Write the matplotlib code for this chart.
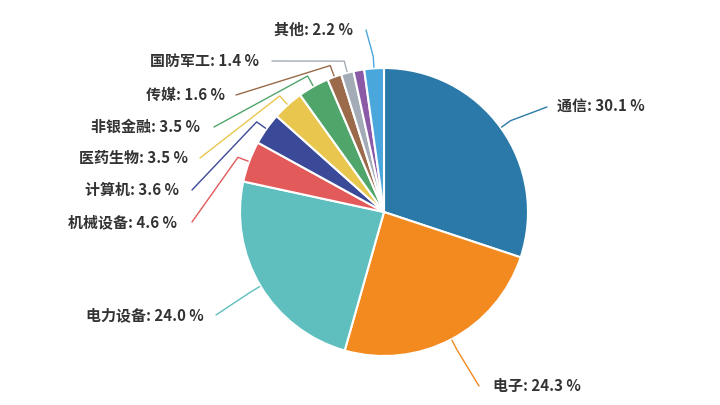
import numpy as np
import matplotlib
matplotlib.use('Agg')
import matplotlib.pyplot as plt

plt.rcParams['font.family'] = ['Noto Sans CJK SC', 'DejaVu Sans']

# slices, clockwise from 12 o'clock (one small slice has no label shown)
names = ['通信', '电子', '电力设备', '机械设备', '计算机', '医药生物',
         '非银金融', '传媒', '国防军工', '', '其他']
values = [30.1, 24.3, 24.0, 4.6, 3.6, 3.5, 3.5, 1.6, 1.4, 1.2, 2.2]
colors = ['#2b79a9', '#f38a1f', '#5fbfbf', '#e25a5a', '#3b4a98', '#e9c64d',
          '#50a56b', '#9a6a4a', '#a3abb6', '#8a5aa6', '#49a7dc']

# label layout in image pixels: text x, text y, alignment, leader end x
label_pos = [(557, 107, 'left', 547), (493, 386, 'left', 479),
             (204, 315, 'right', 216), (177, 222, 'right', 192),
             (179, 190, 'right', 192), (188, 158, 'right', 200),
             (200, 127, 'right', 214), (225, 95, 'right', 236),
             (259, 61, 'right', 272), None, (353, 30, 'right', 366)]

W, H = 720, 405
fig = plt.figure(figsize=(7.2, 4.05), dpi=100)
ax = fig.add_axes([0, 0, 1, 1])

cx, cy, r = 384, H - 212, 144
wedges, _ = ax.pie(values, colors=colors, startangle=90, counterclock=False,
                   center=(cx, cy), radius=r,
                   wedgeprops=dict(edgecolor='white', linewidth=1.5))

for w, name, v, pos in zip(wedges, names, values, label_pos):
    if pos is None:
        continue
    tx, ty, ha, lx = pos
    ang = np.deg2rad((w.theta1 + w.theta2) / 2)
    d = np.array([np.cos(ang), np.sin(ang)])
    p0 = np.array([cx, cy]) + (r + 1) * d
    p1 = np.array([cx, cy]) + (r + 12) * d
    p2 = np.array([lx, H - ty])
    ax.plot([p0[0], p1[0], p2[0]], [p0[1], p1[1], p2[1]],
            color=w.get_facecolor(), lw=1.0, solid_capstyle='round')
    ax.text(tx, H - ty, f'{name}: {v:.1f} %', ha=ha, va='center',
            fontsize=10.8, fontweight='bold', color='#333333')

ax.set_xlim(0, W)
ax.set_ylim(0, H)
ax.set_aspect('equal')
ax.axis('off')

fig.savefig('out.png', dpi=100, facecolor='white')
